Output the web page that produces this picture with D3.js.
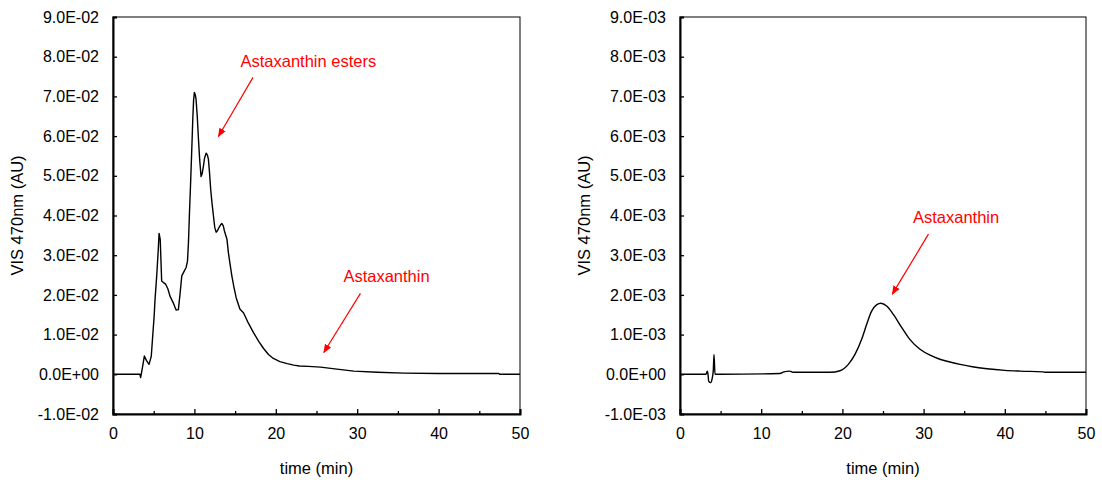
<!DOCTYPE html>
<html>
<head>
<meta charset="utf-8">
<script src="https://cdn.jsdelivr.net/npm/d3@7"></script>
<style>
  html, body { margin: 0; padding: 0; background: #fff; }
  svg { display: block; font-family: Arial, "Liberation Sans", sans-serif; }
</style>
</head>
<body>
<svg id="chart" width="1102" height="482"></svg>
<script>
// Chromatogram of esterified extract (time in min, absorbance AU)
const esterTime = [0, 3.3, 3.4, 3.6, 3.85, 4.1, 4.43, 4.7, 4.88, 5.05, 5.17, 5.37, 5.55, 5.66, 5.8, 5.98, 6.2, 6.47, 6.75, 7.0, 7.4, 7.75, 8.03, 8.25, 8.45, 8.75, 8.98, 9.15, 9.27, 9.4, 9.55, 9.7, 9.8, 9.9, 10.0, 10.1, 10.2, 10.35, 10.5, 10.65, 10.82, 10.95, 11.1, 11.25, 11.44, 11.6, 11.72, 11.85, 12.0, 12.17, 12.34, 12.5, 12.67, 12.85, 13.0, 13.2, 13.37, 13.55, 13.69, 14.0, 14.18, 14.4, 14.6, 14.85, 15.13, 15.6, 16.03, 16.6, 17.26, 17.9, 18.5, 19.1, 19.7, 20.5, 21.4, 22.2, 22.9, 24.0, 25.5, 27.5, 29.6, 32.5, 35.7, 40.0, 44.0, 47.4, 47.5, 50];
const esterSignal = [0, 0, -0.0008, 0.0015, 0.0046, 0.0035, 0.0025, 0.0045, 0.0097, 0.0145, 0.019, 0.0248, 0.031, 0.0355, 0.034, 0.0235, 0.0231, 0.0227, 0.0215, 0.0197, 0.018, 0.0162, 0.0163, 0.0205, 0.0248, 0.026, 0.0269, 0.0285, 0.0332, 0.041, 0.0491, 0.058, 0.0642, 0.069, 0.071, 0.0705, 0.0693, 0.065, 0.0592, 0.054, 0.0498, 0.0505, 0.0523, 0.0545, 0.0557, 0.0552, 0.0542, 0.051, 0.0466, 0.043, 0.0399, 0.037, 0.0358, 0.0362, 0.0369, 0.0376, 0.038, 0.0374, 0.0361, 0.034, 0.0306, 0.0275, 0.0248, 0.022, 0.0193, 0.0164, 0.0155, 0.013, 0.0105, 0.0083, 0.0065, 0.005, 0.004, 0.0032, 0.0027, 0.0023, 0.0021, 0.002, 0.0018, 0.0013, 0.0008, 0.0005, 0.0003, 0.0002, 0.0002, 0.0002, 0.0, 0.0];

// Chromatogram of saponified extract
const freeTime = [0, 3.2, 3.36, 3.45, 3.53, 3.78, 3.94, 4.1, 4.19, 4.31, 5.0, 12.3, 12.8, 13.5, 13.9, 18.5, 19.7, 20.73, 21.55, 22.37, 22.99, 23.6, 24.2, 24.75, 25.45, 26.27, 27.3, 28.3, 29.56, 30.8, 32.0, 33.25, 34.5, 36.0, 37.8, 40.0, 41.9, 44.7, 45.0, 50];
const freeSignal = [0, 0, 0.00008, 0.0, -0.00017, -0.00021, -0.00013, 0.0001, 0.0005, 0.0, 0.0, 0.00002, 0.00006, 0.00008, 0.00005, 0.00005, 0.00009, 0.00025, 0.0005, 0.00088, 0.00126, 0.00159, 0.00175, 0.00179, 0.00172, 0.00151, 0.00118, 0.00088, 0.00063, 0.00048, 0.00038, 0.00031, 0.00025, 0.00019, 0.00014, 0.0001, 0.00008, 0.00006, 0.00005, 0.00005];

const xTicks = [0, 10, 20, 30, 40, 50];
const xMinorTicks = [5, 15, 25, 35, 45];
const esterYTicks = [-0.01, 0, 0.01, 0.02, 0.03, 0.04, 0.05, 0.06, 0.07, 0.08, 0.09];
const freeYTicks = [-0.001, 0, 0.001, 0.002, 0.003, 0.004, 0.005, 0.006, 0.007, 0.008, 0.009];
const esterYLabels = ["-1.0E-02", "0.0E+00", "1.0E-02", "2.0E-02", "3.0E-02", "4.0E-02", "5.0E-02", "6.0E-02", "7.0E-02", "8.0E-02", "9.0E-02"];
const freeYLabels = ["-1.0E-03", "0.0E+00", "1.0E-03", "2.0E-03", "3.0E-03", "4.0E-03", "5.0E-03", "6.0E-03", "7.0E-03", "8.0E-03", "9.0E-03"];

// Callouts: label position and arrow (from -> to), in data units
const esterNotes = [
  { text: "Astaxanthin esters", t: 24.0, v: 0.0773, from: [17.2, 0.0748], to: [12.95, 0.0599] },
  { text: "Astaxanthin", t: 33.6, v: 0.0232, from: [30.4, 0.0204], to: [25.9, 0.0055] }
];
const freeNotes = [
  { text: "Astaxanthin", t: 34.0, v: 0.0038, from: [30.6, 0.00353], to: [26.15, 0.00202] }
];

const svg = d3.select("#chart");
const defs = svg.append("defs");
defs.append("marker")
  .attr("id", "arrowhead")
  .attr("viewBox", "0 0 10 10")
  .attr("refX", 9).attr("refY", 5)
  .attr("markerWidth", 9).attr("markerHeight", 9)
  .attr("markerUnits", "userSpaceOnUse")
  .attr("orient", "auto")
  .append("path")
  .attr("d", "M0,1 L10,5 L0,9 Z")
  .attr("fill", "#ff0000");

function panel(cfg) {
  const x = d3.scaleLinear().domain([0, 50]).range([cfg.left, cfg.right]);
  const y = d3.scaleLinear().domain(cfg.yDomain).range([cfg.bottom, cfg.top]);
  const g = svg.append("g");

  // frame
  g.append("rect")
    .attr("x", cfg.left).attr("y", cfg.top)
    .attr("width", cfg.right - cfg.left).attr("height", cfg.bottom - cfg.top)
    .attr("fill", "none").attr("stroke", "#000").attr("stroke-width", 1);

  // bottom axis with inward ticks
  const xAxis = d3.axisBottom(x).tickValues(xTicks).tickSize(-5).tickPadding(14).tickFormat(d3.format("d"));
  const gx = g.append("g").attr("transform", `translate(0,${cfg.bottom})`).call(xAxis);
  gx.select(".domain").attr("stroke-width", 2);
  gx.selectAll(".tick line").attr("stroke-width", 1.3);
  gx.selectAll(".tick text").attr("font-size", 16).attr("fill", "#000");
  g.append("g").attr("transform", `translate(0,${cfg.bottom})`)
    .call(d3.axisBottom(x).tickValues(xMinorTicks).tickSize(-3).tickFormat(""))
    .call(s => s.select(".domain").remove())
    .selectAll(".tick line").attr("stroke-width", 1.3);

  // left axis with inward ticks
  const yAxis = d3.axisLeft(y).tickValues(cfg.yTicks).tickSize(-4).tickPadding(14)
    .tickFormat((d, i) => cfg.yLabels[i]);
  const gy = g.append("g").attr("transform", `translate(${cfg.left},0)`).call(yAxis);
  gy.select(".domain").attr("stroke-width", 2);
  gy.selectAll(".tick line").attr("stroke-width", 1.3);
  gy.selectAll(".tick text").attr("font-size", 16).attr("fill", "#000");

  // trace
  const line = d3.line().curve(cfg.curve).x(d => x(d[0])).y(d => y(d[1]));
  g.append("path")
    .datum(cfg.time.map((t, i) => [t, cfg.signal[i]]))
    .attr("d", line)
    .attr("fill", "none")
    .attr("stroke", "#000")
    .attr("stroke-width", 1.4)
    .attr("stroke-linejoin", "round");

  // axis titles
  g.append("text")
    .attr("x", (cfg.left + cfg.right) / 2).attr("y", 474)
    .attr("text-anchor", "middle").attr("font-size", 16.5)
    .text("time (min)");
  g.append("text")
    .attr("transform", `translate(${cfg.left - 90},${(cfg.top + cfg.bottom) / 2}) rotate(-90)`)
    .attr("text-anchor", "middle").attr("font-size", 16.5)
    .text("VIS 470nm (AU)");

  // callouts
  cfg.notes.forEach(n => {
    g.append("line")
      .attr("x1", x(n.from[0])).attr("y1", y(n.from[1]))
      .attr("x2", x(n.to[0])).attr("y2", y(n.to[1]))
      .attr("stroke", "#ff0000").attr("stroke-width", 1.2)
      .attr("marker-end", "url(#arrowhead)");
    g.append("text")
      .attr("x", x(n.t)).attr("y", y(n.v))
      .attr("text-anchor", "middle").attr("font-size", 16.5)
      .attr("fill", "#ff0000")
      .text(n.text);
  });
}

panel({
  left: 113, right: 520, top: 17, bottom: 414,
  yDomain: [-0.01, 0.09], yTicks: esterYTicks, yLabels: esterYLabels,
  time: esterTime, signal: esterSignal, notes: esterNotes, curve: d3.curveLinear
});
panel({
  left: 680, right: 1086, top: 17, bottom: 414,
  yDomain: [-0.001, 0.009], yTicks: freeYTicks, yLabels: freeYLabels,
  time: freeTime, signal: freeSignal, notes: freeNotes, curve: d3.curveMonotoneX
});
</script>
</body>
</html>
